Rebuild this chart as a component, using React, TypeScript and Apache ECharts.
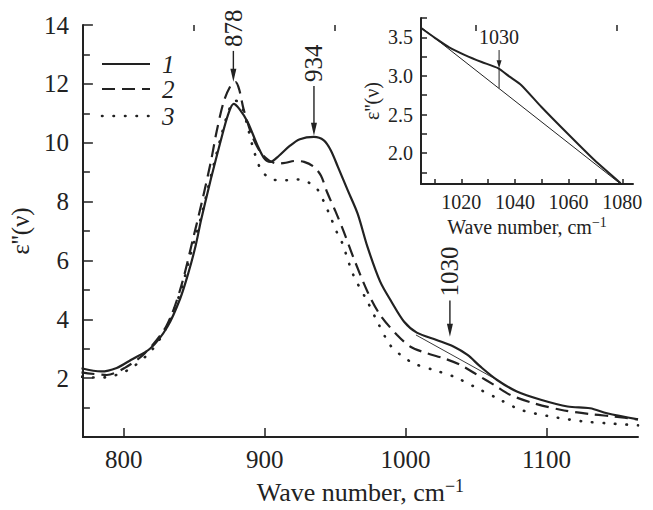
import React, { useEffect, useRef } from "react";
import * as echarts from "echarts";

// ---- main panel data ----
const wave1 = [770, 784, 795, 805, 819, 831, 840, 846, 851, 855, 862, 869, 874, 878, 882, 888, 895, 900, 904, 910, 918, 925, 935, 942, 947, 952, 959, 966, 973, 982, 990, 999, 1008, 1022, 1034, 1044, 1053, 1065, 1079, 1096, 1115, 1131, 1143, 1165];
const eps1 = [2.34, 2.23, 2.35, 2.62, 3.02, 3.75, 4.7, 5.6, 6.5, 7.4, 8.8, 10.1, 10.95, 11.32, 11.15, 10.7, 9.9, 9.45, 9.35, 9.55, 9.9, 10.12, 10.2, 10.08, 9.74, 9.18, 8.38, 7.59, 6.46, 5.28, 4.6, 3.92, 3.55, 3.3, 3.08, 2.79, 2.4, 1.94, 1.55, 1.27, 1.04, 0.98, 0.81, 0.6];

const wave2 = [770, 788, 801, 815, 830, 840, 850, 856, 862, 866, 871, 876, 879.4, 882, 885, 891, 897, 903, 909, 915, 921, 928, 935, 940, 944.5, 950, 956, 963, 973, 982, 994, 1003.5, 1015, 1027, 1039, 1051, 1063, 1074.5, 1091, 1110, 1131, 1148, 1165];
const eps2 = [2.2, 2.11, 2.36, 2.85, 3.75, 5.0, 6.9, 8.1, 9.4, 10.4, 11.4, 11.95, 12.06, 11.8, 11.15, 10.25, 9.68, 9.4, 9.29, 9.32, 9.38, 9.35, 9.18, 8.88, 8.3, 7.7, 7.0, 6.1, 4.94, 4.15, 3.47, 3.07, 2.85, 2.68, 2.45, 2.11, 1.77, 1.43, 1.15, 0.93, 0.78, 0.7, 0.6];

const wave3 = [770, 781, 790, 798, 806, 820, 830, 840, 848, 855, 862, 869, 875, 879.4, 884, 887.7, 891.3, 897, 904, 914, 921, 930, 937.4, 942, 947, 951.6, 955, 963, 973, 980, 989, 996.5, 1006, 1020, 1034, 1048.5, 1065, 1081.6, 1103, 1126.5, 1143, 1165];
const eps3 = [2.05, 2.02, 2.05, 2.17, 2.36, 2.96, 3.7, 4.9, 6.3, 7.5, 8.9, 10.2, 11.15, 11.43, 11.2, 10.59, 9.91, 9.12, 8.78, 8.72, 8.76, 8.68, 8.42, 8.0, 7.45, 6.92, 6.6, 5.5, 4.6, 3.92, 3.13, 2.79, 2.5, 2.28, 2.06, 1.72, 1.32, 0.93, 0.7, 0.53, 0.47, 0.4];

const tangentX = [1007.4, 1065];
const tangentY = [3.47, 1.94];

const seriesNames = ["1", "2", "3"];
const mainXLabels = [800, 900, 1000, 1100];
const mainXMinor = [850, 950, 1050, 1150];

// peak annotations (main panel)
const peakLabels = ["878", "934", "1030"];
const peakX = [877.8, 935, 1031.5];
const arrowTipY = [12.07, 10.24, 3.41];
const arrowTailY = [13.12, 11.93, 4.64];

// ---- inset data ----
const insetWave = [1005, 1010.3, 1015.5, 1021.4, 1027.6, 1033.7, 1038, 1042.4, 1049.8, 1059.7, 1069.6, 1079.4];
const insetEps = [3.62, 3.49, 3.37, 3.27, 3.18, 3.10, 2.99, 2.88, 2.60, 2.25, 1.91, 1.61];
const insetBaseX = [1005.4, 1079.4];
const insetBaseY = [3.62, 1.6];
const insetMarkX = 1034.1;
const insetMarkTop = 3.335;
const insetMarkCurve = 3.10;
const insetMarkBase = 2.84;
const insetLabel = "1030";
const insetXTicks = [1010, 1020, 1030, 1040, 1050, 1060, 1070, 1080];
const insetXLabels = [1020, 1040, 1060, 1080];
const insetYTicks = [1.75, 2.0, 2.25, 2.5, 2.75, 3.0, 3.25, 3.5, 3.75];
const insetYLabels = [2.0, 2.5, 3.0, 3.5];

const FONT = "'Liberation Serif', 'Times New Roman', serif";
const INK = "#222";

const zip = (xs: number[], ys: number[]) => xs.map((x, i) => [x, ys[i]]);
const plain = (v: number) => String(v);

export default function App() {
  const ref = useRef<HTMLDivElement>(null);
  useEffect(() => {
    document.body.style.margin = "0";
    const chart = echarts.init(ref.current!, undefined, { renderer: "svg" });
    const axisLineStyle = { color: INK, width: 2 };
    const option: any = {
      animation: false,
      textStyle: { fontFamily: FONT, color: INK },
      grid: [
        { left: 82, right: 15, top: 25, bottom: 71 },
        { left: 421, right: 20, top: 18, bottom: 326 },
      ],
      xAxis: [
        {
          type: "value", gridIndex: 0, min: 771, max: 1165,
          axisLine: { onZero: false, lineStyle: axisLineStyle },
          axisTick: { inside: true, length: 9, lineStyle: { color: INK, width: 1.5 }, customValues: mainXLabels },
          axisLabel: { customValues: mainXLabels, formatter: plain, fontSize: 25, fontFamily: FONT, color: INK, margin: 10 },
          splitLine: { show: false },
          name: "{a|Wave number, cm}{b|−1}",
          nameLocation: "middle", nameGap: 39,
          nameTextStyle: {
            rich: {
              a: { fontSize: 26, fontFamily: FONT, color: INK, lineHeight: 30 },
              b: { fontSize: 18, fontFamily: FONT, color: INK, verticalAlign: "top", lineHeight: 18 },
            },
          },
        },
        {
          type: "value", gridIndex: 0, min: 771, max: 1165,
          axisLine: { show: false, onZero: false },
          axisTick: { inside: true, length: 6, lineStyle: { color: INK, width: 1.5 }, customValues: mainXMinor },
          axisLabel: { show: false, customValues: mainXMinor },
          splitLine: { show: false },
        },
        {
          type: "value", gridIndex: 1, min: 1005, max: 1084,
          axisLine: { onZero: false, lineStyle: axisLineStyle },
          axisTick: { inside: true, length: 5, lineStyle: { color: INK, width: 1.5 }, customValues: insetXTicks },
          axisLabel: { customValues: insetXLabels, formatter: plain, fontSize: 20, fontFamily: FONT, color: INK, margin: 8 },
          splitLine: { show: false },
          name: "{a|Wave number, cm}{b|−1}",
          nameLocation: "middle", nameGap: 31,
          nameTextStyle: {
            rich: {
              a: { fontSize: 20, fontFamily: FONT, color: INK, lineHeight: 24 },
              b: { fontSize: 14, fontFamily: FONT, color: INK, verticalAlign: "top", lineHeight: 15 },
            },
          },
        },
      ],
      yAxis: [
        {
          type: "value", gridIndex: 0, min: 0, max: 14, interval: 2,
          axisLine: { show: true, onZero: false, lineStyle: axisLineStyle },
          axisTick: { inside: true, length: 10, lineStyle: { color: INK, width: 1.5 } },
          minorTick: { show: true, splitNumber: 2, length: 7, lineStyle: { color: INK, width: 1.5 } },
          axisLabel: { showMinLabel: false, formatter: plain, fontSize: 25, fontFamily: FONT, color: INK, margin: 14 },
          splitLine: { show: false },
          minorSplitLine: { show: false },
          name: "ε''(ν)", nameLocation: "middle", nameGap: 34,
          nameTextStyle: { fontSize: 25, fontFamily: FONT, color: INK },
        },
        {
          type: "value", gridIndex: 1, min: 1.6, max: 3.75,
          axisLine: { show: true, onZero: false, lineStyle: axisLineStyle },
          axisTick: { inside: true, length: 6, lineStyle: { color: INK, width: 1.5 }, customValues: insetYTicks },
          axisLabel: { customValues: insetYLabels, fontSize: 20, fontFamily: FONT, color: INK, margin: 8, formatter: (v: number) => v.toFixed(1) },
          splitLine: { show: false },
          name: "ε''(ν)", nameLocation: "middle", nameGap: 39,
          nameTextStyle: { fontSize: 20, fontFamily: FONT, color: INK },
        },
      ],
      series: [
        {
          name: seriesNames[0], type: "line", xAxisIndex: 0, yAxisIndex: 0, data: zip(wave1, eps1),
          symbol: "none", smooth: 0.3, silent: true,
          lineStyle: { color: INK, width: 2.2 },
        },
        {
          name: seriesNames[1], type: "line", xAxisIndex: 0, yAxisIndex: 0, data: zip(wave2, eps2),
          symbol: "none", smooth: 0.3, silent: true,
          lineStyle: { color: INK, width: 2.2, type: [13, 7] },
        },
        {
          name: seriesNames[2], type: "line", xAxisIndex: 0, yAxisIndex: 0, data: zip(wave3, eps3),
          symbol: "none", smooth: 0.3, silent: true,
          lineStyle: { color: INK, width: 2.6, type: [0.5, 11], cap: "round" },
        },
        {
          type: "line", xAxisIndex: 0, yAxisIndex: 0, data: zip(tangentX, tangentY),
          symbol: "none", silent: true, lineStyle: { color: INK, width: 0.9 },
        },
        {
          type: "line", xAxisIndex: 2, yAxisIndex: 1, data: zip(insetWave, insetEps),
          symbol: "none", smooth: 0.2, silent: true,
          lineStyle: { color: INK, width: 2 },
        },
        {
          type: "line", xAxisIndex: 2, yAxisIndex: 1, data: zip(insetBaseX, insetBaseY),
          symbol: "none", silent: true, lineStyle: { color: INK, width: 1 },
        },
        {
          type: "line", xAxisIndex: 2, yAxisIndex: 1, data: [[insetMarkX, insetMarkCurve], [insetMarkX, insetMarkBase]],
          symbol: "none", silent: true, lineStyle: { color: INK, width: 1 },
        },
      ],
    };
    chart.setOption(option);

    const g: any[] = [];
    // peak arrows + rotated labels
    peakLabels.forEach((lab, i) => {
      const tip = chart.convertToPixel({ gridIndex: 0 }, [peakX[i], arrowTipY[i]]) as number[];
      const tail = chart.convertToPixel({ gridIndex: 0 }, [peakX[i], arrowTailY[i]]) as number[];
      g.push({ type: "line", silent: true, shape: { x1: tip[0], y1: tail[1], x2: tip[0], y2: tip[1] - 8 }, style: { stroke: INK, lineWidth: 1.4 } });
      g.push({ type: "polygon", silent: true, shape: { points: [[tip[0] - 3, tip[1] - 13], [tip[0] + 3, tip[1] - 13], [tip[0], tip[1]]] }, style: { fill: INK } });
      g.push({
        type: "text", silent: true, x: tip[0], y: tail[1] - 4, rotation: Math.PI / 2,
        style: { text: lab, fontSize: 25, fontFamily: FONT, fill: INK, align: "left", verticalAlign: "middle" },
      });
    });
    // inset arrow
    const iTip = chart.convertToPixel({ gridIndex: 1 }, [insetMarkX, insetMarkCurve]) as number[];
    const iTail = chart.convertToPixel({ gridIndex: 1 }, [insetMarkX, insetMarkTop]) as number[];
    g.push({ type: "line", silent: true, shape: { x1: iTip[0], y1: iTail[1], x2: iTip[0], y2: iTip[1] - 5 }, style: { stroke: INK, lineWidth: 1 } });
    g.push({ type: "polygon", silent: true, shape: { points: [[iTip[0] - 2.5, iTip[1] - 8], [iTip[0] + 2.5, iTip[1] - 8], [iTip[0], iTip[1]]] }, style: { fill: INK } });
    g.push({
      type: "text", silent: true, x: iTip[0], y: iTail[1] - 3,
      style: { text: insetLabel, fontSize: 20, fontFamily: FONT, fill: INK, align: "center", verticalAlign: "bottom" },
    });
    // legend
    const legendY = [64, 89, 116];
    const legendDash: any[] = [null, [13, 7], [0.5, 11]];
    const legendW = [2.2, 2.2, 2.6];
    seriesNames.forEach((n, i) => {
      g.push({
        type: "line", silent: true, shape: { x1: 102, y1: legendY[i], x2: 150, y2: legendY[i] },
        style: { stroke: INK, lineWidth: legendW[i], lineDash: legendDash[i], lineCap: i === 2 ? "round" : "butt" },
      });
      g.push({
        type: "text", silent: true, x: 162, y: legendY[i],
        style: { text: n, fontSize: 25, fontStyle: "italic", fontFamily: FONT, fill: INK, align: "left", verticalAlign: "middle" },
      });
    });
    chart.setOption({ graphic: g });

    return () => chart.dispose();
  }, []);
  return <div ref={ref} style={{ width: 653, height: 510 }} />;
}
